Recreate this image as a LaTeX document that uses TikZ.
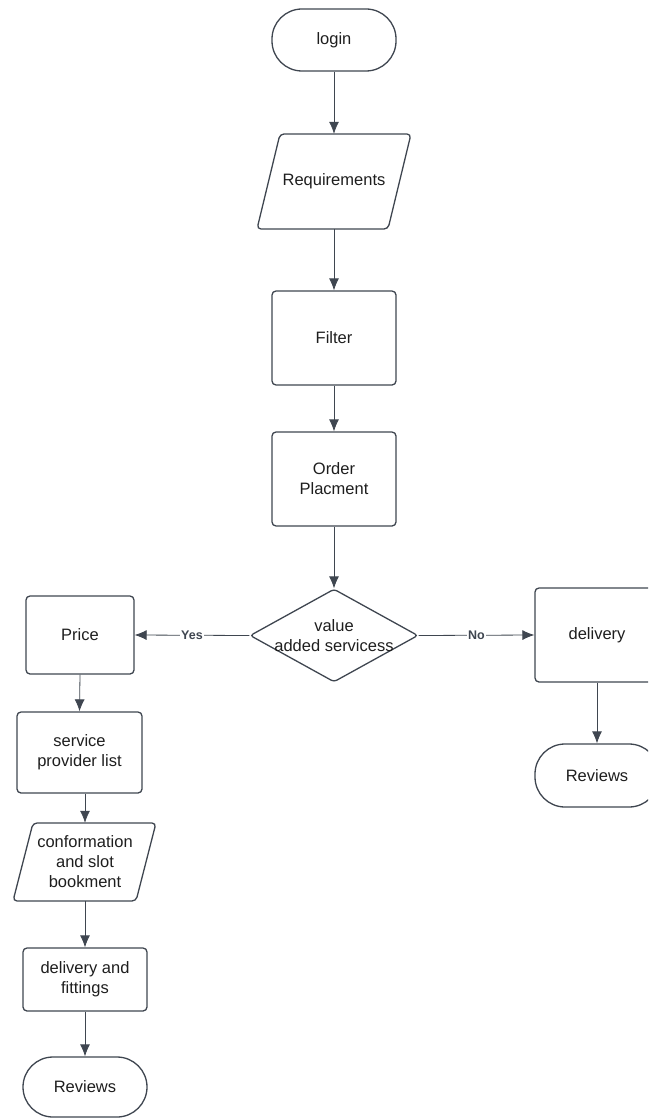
\documentclass[tikz,border=0pt]{standalone}
\usepackage{fontspec}
\setmainfont{Liberation Sans}
\usetikzlibrary{arrows.meta,shapes.geometric}
\definecolor{edge}{HTML}{3F4650}
\definecolor{ink}{HTML}{1E1E1E}
\begin{document}
\begin{tikzpicture}[x=1pt,y=-1pt,
  every node/.style={text=ink,font=\fontsize{16.5}{20}\selectfont,align=center,inner sep=0pt},
  terminal/.style={draw=edge,line width=1.3pt,rectangle,rounded corners=30pt},
  procbox/.style={draw=edge,line width=1.3pt,rectangle,rounded corners=4pt},
  ioframe/.style={draw=edge,line width=1.3pt,rounded corners=4pt},
  anchorbox/.style={rectangle,draw=none},
  decision/.style={draw=edge,line width=1.3pt,diamond,rounded corners=3pt,inner sep=0pt},
  arr/.style={draw=edge,line width=0.8pt,-{Latex[length=12pt,width=10pt]}},
  branch/.style={fill=white,font=\bfseries\fontsize{12.5}{14}\selectfont,text=edge,inner sep=1pt}]
\useasboundingbox (0,0) rectangle (648,1118);
\clip (0,0) rectangle (648,1118);

% main column
\node[terminal,minimum width=124pt,minimum height=62pt] (login) at (334,40) {login};

\draw[ioframe] (280,134) -- (411,134) -- (388,229) -- (257,229) -- cycle;
\node[anchorbox,minimum width=100pt,minimum height=95pt] (req) at (334,181.5) {Requirements};

\node[procbox,minimum width=124pt,minimum height=94pt] (filter) at (334,338) {Filter};
\node[procbox,minimum width=124pt,minimum height=94pt] (order) at (334,479) {Order\\Placment};

\node[decision,minimum width=168pt,minimum height=93pt] (dec) at (334,635.5) {};
\node at (dec) {value\\added servicess};

% yes branch
\node[procbox,minimum width=108pt,minimum height=78pt] (price) at (80,635) {Price};
\node[procbox,minimum width=125pt,minimum height=81pt] (spl) at (79.5,752.5) {service\\provider list};

\draw[ioframe] (33,823) -- (156,823) -- (136,901) -- (13,901) -- cycle;
\node[anchorbox,minimum width=100pt,minimum height=78pt] (conf) at (85,862) {conformation\\and slot\\bookment};

\node[procbox,minimum width=124pt,minimum height=63pt] (dnf) at (85,979.5) {delivery and\\fittings};
\node[terminal,minimum width=124pt,minimum height=60pt] (rev1) at (85,1087) {Reviews};

% no branch
\node[procbox,minimum width=124pt,minimum height=94pt] (deliv) at (597,635) {delivery};
\node[terminal,minimum width=124pt,minimum height=63pt] (rev2) at (597,775.5) {Reviews};

% connectors
\draw[arr] (login.south) -- (req.north);
\draw[arr] (req.south) -- (filter.north);
\draw[arr] (filter.south) -- (order.north);
\draw[arr] (order.south) -- (dec.north);
\draw[arr] (dec.west) -- node[branch] {Yes} (price.east);
\draw[arr] (dec.east) -- node[branch] {No} (deliv.west);
\draw[arr] (price.south) -- (spl.north);
\draw[arr] (conf.north |- spl.south) -- (conf.north);
\draw[arr] (conf.south) -- (dnf.north);
\draw[arr] (dnf.south) -- (rev1.north);
\draw[arr] (deliv.south) -- (rev2.north);
\end{tikzpicture}
\end{document}
